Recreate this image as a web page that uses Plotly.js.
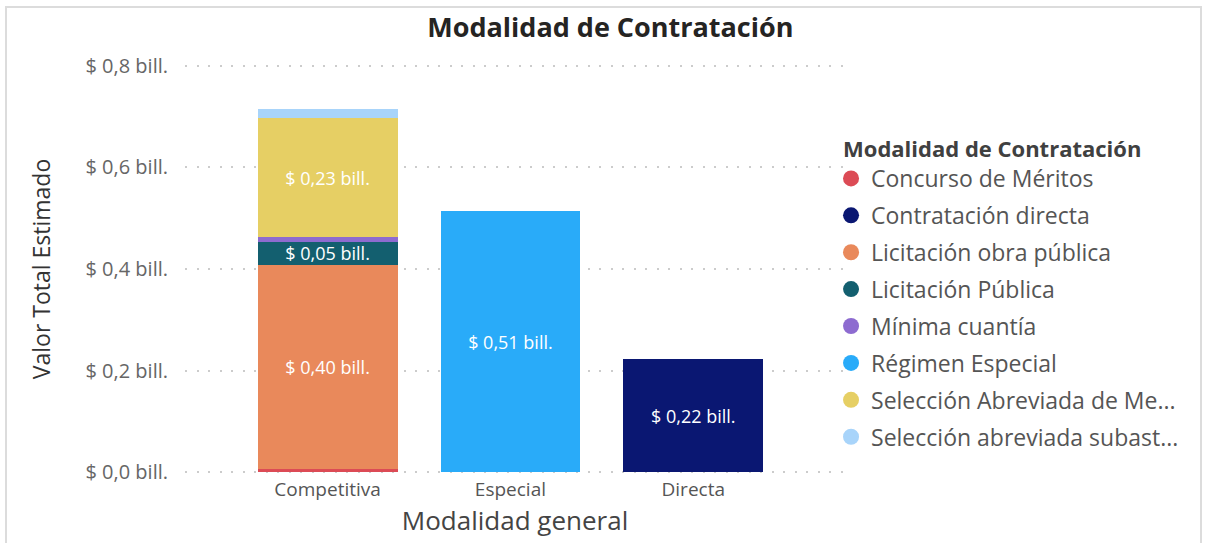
<!DOCTYPE html>
<html>
<head>
<meta charset="utf-8">
<script src="https://cdn.plot.ly/plotly-3.0.1.min.js"></script>
<style>
  html, body { margin: 0; padding: 0; background: #fff; }
  #wrap { position: relative; width: 1211px; height: 543px; }
  #chart { width: 1211px; height: 543px; }
  #frame { position: absolute; left: 5px; top: 6px; width: 1197px; height: 545px; border: 2px solid #dcdcdc; pointer-events: none; box-sizing: border-box; }
</style>
</head>
<body>
<div id="wrap">
  <div id="chart"></div>
  <div id="frame"></div>
</div>
<script>
// ---- data ----
const categories = ['Competitiva', 'Especial', 'Directa'];
const seriesNames = [
  'Concurso de Méritos',
  'Contratación directa',
  'Licitación obra pública',
  'Licitación Pública',
  'Mínima cuantía',
  'Régimen Especial',
  'Selección Abreviada de Menor Cuantía',
  'Selección abreviada subasta inversa'
];
const legendLabels = [
  'Concurso de Méritos',
  'Contratación directa',
  'Licitación obra pública',
  'Licitación Pública',
  'Mínima cuantía',
  'Régimen Especial',
  'Selección Abreviada de Me...',
  'Selección abreviada subast...'
];
// values in billions, per category [Competitiva, Especial, Directa]
const concursoMeritos     = [0.006, null, null];
const contratacionDirecta = [null, null, 0.224];
const licitacionObra      = [0.402, null, null];
const licitacionPublica   = [0.046, null, null];
const minimaCuantia       = [0.009, null, null];
const regimenEspecial     = [null, 0.514, null];
const selAbrevMenor       = [0.233, null, null];
const selAbrevSubasta     = [0.018, null, null];
const seriesValues = [concursoMeritos, contratacionDirecta, licitacionObra, licitacionPublica,
                      minimaCuantia, regimenEspecial, selAbrevMenor, selAbrevSubasta];
const showLabel = [false, true, true, true, false, true, true, false];
const colors = ['#DC4B55', '#0A1772', '#E9895B', '#135F6F', '#8D6BD0', '#29ABF9', '#E6CF64', '#A8D4FA'];
const yTickVals = [0, 0.2, 0.4, 0.6, 0.8];
const yTickText = ['$ 0,0 bill.', '$ 0,2 bill.', '$ 0,4 bill.', '$ 0,6 bill.', '$ 0,8 bill.'];

function fmt(v) { return '$ ' + v.toFixed(2).replace('.', ',') + ' bill.'; }

const FONT = 'Open Sans, Noto Sans, sans-serif';
const traces = [];
seriesNames.forEach((name, i) => {
  const vals = seriesValues[i];
  traces.push({
    type: 'bar',
    name: name,
    x: categories,
    y: vals,
    marker: { color: colors[i], line: { width: 0 } },
    text: vals.map(v => (v != null && showLabel[i]) ? fmt(v) : ''),
    textposition: 'inside',
    insidetextanchor: 'middle',
    textangle: 0,
    constraintext: 'none',
    textfont: { color: '#ffffff', size: 18, family: FONT },
    hoverinfo: 'x+y+name',
    showlegend: false,
    legendgroup: 'g' + i
  });
});
// legend entries with circle markers
seriesNames.forEach((name, i) => {
  traces.push({
    type: 'scatter',
    mode: 'markers',
    name: legendLabels[i],
    x: [null],
    y: [null],
    marker: { color: colors[i], size: 16, symbol: 'circle' },
    showlegend: true,
    legendgroup: 'g' + i,
    hoverinfo: 'skip'
  });
});

const layout = {
  width: 1211,
  height: 543,
  paper_bgcolor: '#ffffff',
  plot_bgcolor: '#ffffff',
  margin: { l: 185, r: 366, t: 64, b: 69 },
  barmode: 'stack',
  bargap: 0.235,
  font: { family: FONT, color: '#555555' },
  title: {
    text: '<b>Modalidad de Contratación</b>',
    font: { family: FONT, size: 27, color: '#252423' },
    x: 0.504, xanchor: 'center', y: 0.95, yanchor: 'middle'
  },
  xaxis: {
    type: 'category',
    range: [-0.78, 2.83],
    showgrid: false,
    zeroline: false,
    showline: false,
    ticks: '',
    tickfont: { family: FONT, size: 19, color: '#555555' },
    ticklabelstandoff: 2,
    title: { text: 'Modalidad general', font: { family: FONT, size: 26, color: '#444444' }, standoff: 6 }
  },
  yaxis: {
    range: [-0.003, 0.803],
    tickvals: yTickVals,
    ticktext: yTickText,
    showgrid: true,
    gridcolor: '#cccccc',
    griddash: '2px,9.5px',
    gridwidth: 1.5,
    zeroline: false,
    showline: false,
    ticks: '',
    tickfont: { family: FONT, size: 20, color: '#666666' },
    ticklabelstandoff: 16,
    title: { text: 'Valor Total Estimado', font: { family: FONT, size: 23, color: '#333333' }, standoff: 28 }
  },
  legend: {
    x: 0.994, xanchor: 'left',
    y: 0.843, yanchor: 'top',
    traceorder: 'grouped',
    tracegroupgap: 4,
    indentation: -10,
    itemsizing: 'trace',
    font: { family: FONT, size: 23, color: '#555555' },
    title: { text: '<b>Modalidad de Contratación</b>', font: { family: FONT, size: 22, color: '#404040' } },
    bgcolor: 'rgba(0,0,0,0)'
  },
  showlegend: true
};

Plotly.newPlot('chart', traces, layout, { displayModeBar: false, staticPlot: false });
</script>
</body>
</html>
